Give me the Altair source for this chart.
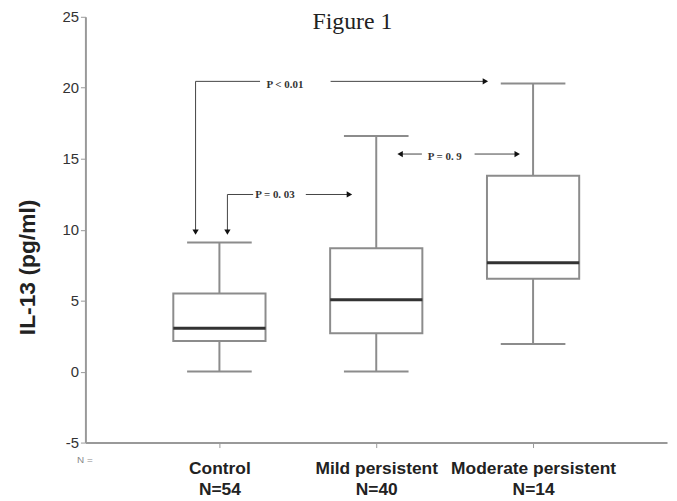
import altair as alt
import pandas as pd

# ---- data ----
categories = ["Control", "Mild persistent", "Moderate persistent"]
n_values = [54, 40, 14]
positions = [1, 2, 3]
whisker_low = [0.0, 0.0, 1.95]
q1 = [2.15, 2.7, 6.55]
median = [3.05, 5.06, 7.67]
q3 = [5.5, 8.7, 13.8]
whisker_high = [9.1, 16.6, 20.3]

# annotation segments (data coordinates)
seg_x1 = [0.848, 0.848, 1.709, 1.051, 1.051, 1.551, 2.158, 2.627]
seg_y1 = [20.45, 20.45, 20.45, 12.48, 12.48, 12.48, 15.33, 15.33]
seg_x2 = [0.848, 1.259, 2.69, 1.051, 1.215, 1.823, 2.291, 2.899]
seg_y2 = [9.9, 20.45, 20.45, 9.9, 12.48, 12.48, 15.33, 15.33]

head_x = [0.848, 2.696, 1.051, 1.829, 2.152, 2.899]
head_y = [9.83, 20.45, 9.83, 12.48, 15.33, 15.33]
head_shape = ["triangle-down", "triangle-right", "triangle-down",
              "triangle-right", "triangle-left", "triangle-right"]

p_text = ["P < 0.01", "P = 0. 03", "P = 0. 9"]
p_x = [1.418, 1.354, 2.437]
p_y = [20.2, 12.41, 15.14]

y_ticks = [-5, 0, 5, 10, 15, 20, 25]

# ---- tables ----
box_df = pd.DataFrame({
    "pos": positions, "cat": categories, "n": n_values,
    "lo": whisker_low, "q1": q1, "med": median, "q3": q3, "hi": whisker_high,
})
seg_df = pd.DataFrame({"x1": seg_x1, "y1": seg_y1, "x2": seg_x2, "y2": seg_y2})
head_df = pd.DataFrame({"x": head_x, "y": head_y, "shape": head_shape})
ptext_df = pd.DataFrame({"x": p_x, "y": p_y, "t": p_text})
fig_df = pd.DataFrame({"x": [1.848], "y": [24.65], "t": ["Figure 1"]})
n_df = pd.DataFrame({"x": [0.142], "y": [-6.2], "t": ["N ="]})

label_expr = " : ".join(
    f"datum.value == {p} ? ['{c}', 'N={n}']" for p, c, n in zip(positions, categories, n_values)
) + " : ''"

xscale = alt.Scale(domain=[0.1456, 3.854], nice=False, zero=False)
yscale = alt.Scale(domain=[-5, 25], nice=False, zero=False)

x_axis = alt.Axis(
    values=positions, labelExpr=label_expr, title=None, grid=False,
    domainColor="#999999", domainWidth=2, tickColor="#999999", tickWidth=1, tickSize=5,
    labelFont="Liberation Sans", labelFontWeight="bold", labelFontSize=17.5,
    labelColor="#222222", labelPadding=12, labelLineHeight=21, labelFlush=False,
)
y_axis = alt.Axis(
    values=y_ticks, title="IL-13 (pg/ml)", grid=False, labelExpr="'' + datum.value",
    domainColor="#999999", domainWidth=2, tickColor="#999999", tickWidth=1, tickSize=5,
    labelFont="Liberation Sans", labelFontSize=15, labelColor="#333333", labelPadding=2,
    titleFont="Liberation Sans", titleFontWeight="bold", titleFontSize=23, titleColor="#222222",
    titleAngle=-90, titleAlign="center", titleBaseline="middle", titleX=-58, titleY=252,
)

def X(field):
    return alt.X(field, type="quantitative", scale=xscale, axis=x_axis)

def Y(field):
    return alt.Y(field, type="quantitative", scale=yscale, axis=y_axis)

base = alt.Chart(box_df)

whisker = base.mark_rule(color="#8c8c8c", strokeWidth=2).encode(
    x=X("pos"), y=Y("lo"), y2="hi"
)
caps_lo = base.transform_calculate(a="datum.pos - 0.206", b="datum.pos + 0.206").mark_rule(
    color="#8c8c8c", strokeWidth=2
).encode(x=X("a"), x2="b", y=Y("lo"))
caps_hi = base.transform_calculate(a="datum.pos - 0.206", b="datum.pos + 0.206").mark_rule(
    color="#8c8c8c", strokeWidth=2
).encode(x=X("a"), x2="b", y=Y("hi"))
box = base.transform_calculate(a="datum.pos - 0.294", b="datum.pos + 0.294").mark_rect(
    fill="white", stroke="#8c8c8c", strokeWidth=2
).encode(x=X("a"), x2="b", y=Y("q1"), y2="q3")
med = base.transform_calculate(a="datum.pos - 0.294", b="datum.pos + 0.294").mark_rule(
    color="#333333", strokeWidth=3
).encode(x=X("a"), x2="b", y=Y("med"))

segs = alt.Chart(seg_df).mark_rule(color="#444444", strokeWidth=1).encode(
    x=X("x1"), x2="x2", y=Y("y1"), y2="y2"
)
heads = alt.Chart(head_df).mark_point(filled=True, color="#111111", size=40, opacity=1).encode(
    x=X("x"), y=Y("y"), shape=alt.Shape("shape:N", scale=None, legend=None)
)
ptext = alt.Chart(ptext_df).mark_text(
    font="Liberation Serif", fontWeight="bold", fontSize=11, color="#333333", baseline="middle"
).encode(x=X("x"), y=Y("y"), text="t:N")
fig_title = alt.Chart(fig_df).mark_text(
    font="Liberation Serif", fontSize=24, color="#222222", baseline="middle"
).encode(x=X("x"), y=Y("y"), text="t:N")
n_text = alt.Chart(n_df).mark_text(
    font="Liberation Sans", fontSize=10, color="#888888", baseline="middle"
).encode(x=X("x"), y=Y("y"), text="t:N")

chart = alt.layer(
    whisker, caps_lo, caps_hi, box, med, segs, heads, ptext, fig_title, n_text
).properties(
    width=586, height=429,
    autosize=alt.AutoSizeParams(type="none"),
    padding={"left": 78, "top": 7, "right": 2, "bottom": 56},
    background="white",
).configure_view(stroke=None)

chart.save("out.html", embed_options={"renderer": "svg", "actions": False})
